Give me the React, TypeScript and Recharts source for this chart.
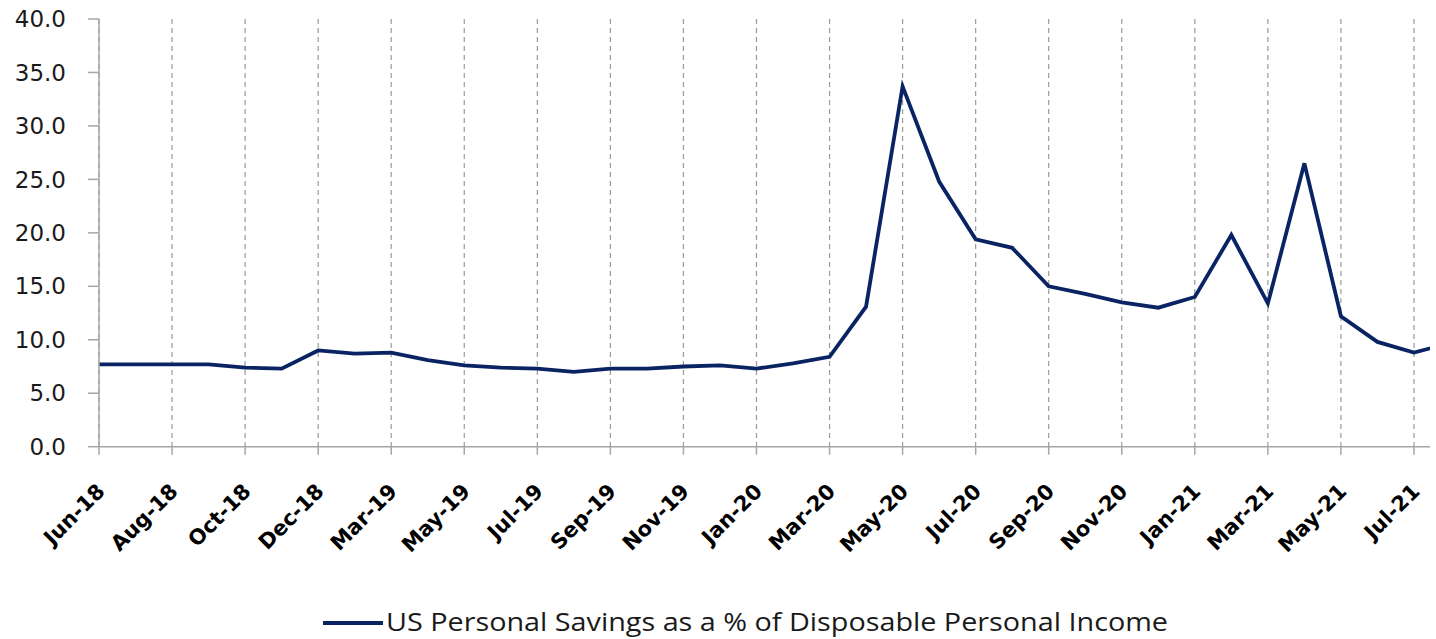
import React from 'react';
import { LineChart, Line, XAxis, YAxis, CartesianGrid } from 'recharts';

const months = [
  'Jun-18', 'Jul-18', 'Aug-18', 'Sep-18', 'Oct-18', 'Nov-18', 'Dec-18', 'Feb-19',
  'Mar-19', 'Apr-19', 'May-19', 'Jun-19', 'Jul-19', 'Aug-19', 'Sep-19', 'Oct-19',
  'Nov-19', 'Dec-19', 'Jan-20', 'Feb-20', 'Mar-20', 'Apr-20', 'May-20', 'Jun-20',
  'Jul-20', 'Aug-20', 'Sep-20', 'Oct-20', 'Nov-20', 'Dec-20', 'Jan-21', 'Feb-21',
  'Mar-21', 'Apr-21', 'May-21', 'Jun-21', 'Jul-21', 'Aug-21',
];

const savingsRate = [
  7.7, 7.7, 7.7, 7.7, 7.4, 7.3, 9.0, 8.7,
  8.8, 8.1, 7.6, 7.4, 7.3, 7.0, 7.3, 7.3,
  7.5, 7.6, 7.3, 7.8, 8.4, 13.1, 33.7, 24.8,
  19.4, 18.6, 15.0, 14.3, 13.5, 13.0, 14.0, 19.8,
  13.4, 26.5, 12.2, 9.8, 8.8, 9.7,
];

const yTicks = [0, 5, 10, 15, 20, 25, 30, 35, 40];

const seriesName = 'US Personal Savings as a % of Disposable Personal Income';

const data = months.map((m, i) => ({ month: m, value: savingsRate[i] }));

const LINE_COLOR = '#0a2463';
const AXIS_COLOR = '#a6a6a6';

const XTick = (props: any) => {
  const { x, y, payload } = props;
  return (
    <g transform={`translate(${x + 7},${y + 38})`}>
      <text
        x={0}
        y={0}
        textAnchor="end"
        transform="rotate(-45)"
        fontFamily="'DejaVu Sans', Verdana, sans-serif"
        fontWeight="bold"
        fontSize={21}
        fill="#000"
      >
        {payload.value}
      </text>
    </g>
  );
};

export default function App() {
  return (
    <div
      style={{
        position: 'absolute',
        left: 0,
        top: 0,
        width: 1430,
        height: 639,
        overflow: 'hidden',
        background: '#fff',
      }}
    >
      <LineChart
        width={1500}
        height={639}
        data={data}
        margin={{ top: 19, right: 49.5, left: 0, bottom: 0 }}
      >
        <CartesianGrid
          horizontal={false}
          vertical={true}
          stroke="#9a9a9a"
          strokeDasharray="5 4"
          strokeWidth={1.2}
        />
        <XAxis
          dataKey="month"
          interval={1}
          height={192.3}
          tickSize={8}
          tickMargin={0}
          axisLine={{ stroke: AXIS_COLOR, strokeWidth: 1.5 }}
          tickLine={{ stroke: AXIS_COLOR, strokeWidth: 1.5 }}
          tick={<XTick />}
        />
        <YAxis
          type="number"
          domain={[0, 40]}
          ticks={yTicks}
          width={99}
          tickSize={11}
          tickMargin={22}
          tickFormatter={(v: number) => v.toFixed(1)}
          axisLine={{ stroke: AXIS_COLOR, strokeWidth: 1.5 }}
          tickLine={{ stroke: AXIS_COLOR, strokeWidth: 1.5 }}
          tick={{
            fill: '#1a1a1a',
            fontSize: 23,
            fontFamily: "'DejaVu Sans', Verdana, sans-serif",
          }}
        />
        <Line
          type="linear"
          dataKey="value"
          name={seriesName}
          stroke={LINE_COLOR}
          strokeWidth={3.8}
          dot={false}
          activeDot={false}
          isAnimationActive={false}
        />
      </LineChart>
      <svg
        width={1430}
        height={50}
        style={{ position: 'absolute', left: 0, top: 595 }}
      >
        <line x1={323} x2={383} y1={28} y2={28} stroke={LINE_COLOR} strokeWidth={3.8} />
        <text
          x={386}
          y={36}
          fontFamily="'Open Sans', sans-serif"
          fontSize={26}
          textLength={782}
          lengthAdjust="spacingAndGlyphs"
          fill="#1a1a1a"
        >
          {seriesName}
        </text>
      </svg>
    </div>
  );
}
